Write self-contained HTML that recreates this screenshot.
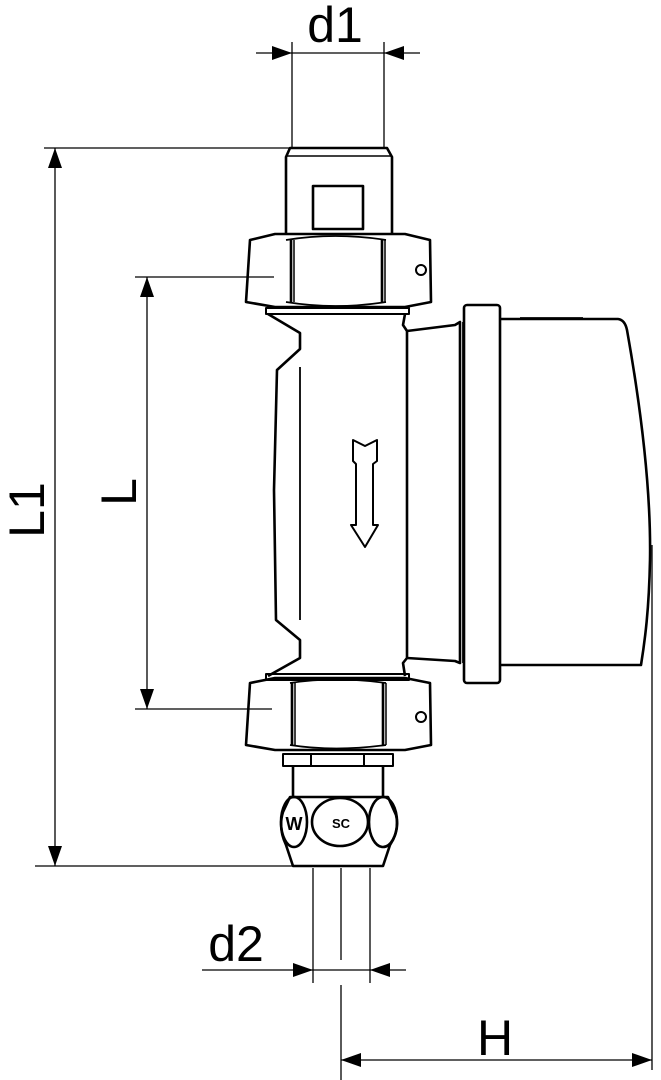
<!DOCTYPE html>
<html><head><meta charset="utf-8"><style>
html,body{margin:0;padding:0;background:#fff}
svg{display:block}
text{font-family:"Liberation Sans",sans-serif;fill:#000}
</style></head><body>
<svg width="661" height="1080" viewBox="0 0 661 1080" xmlns="http://www.w3.org/2000/svg">
<defs>
<marker id="a" viewBox="0 0 20 14" refX="20" refY="7" markerWidth="20" markerHeight="14" markerUnits="userSpaceOnUse" orient="auto"><path d="M0,0 L20,7 L0,14 Z" fill="#000"/></marker>
</defs>
<g stroke="#000" stroke-width="1.3" fill="none">
<line x1="292" y1="42" x2="292" y2="148"/><line x1="384" y1="42" x2="384" y2="148"/>
<line x1="256" y1="53" x2="292" y2="53" marker-end="url(#a)"/>
<line x1="420" y1="53" x2="384" y2="53" marker-end="url(#a)"/>
<line x1="292" y1="53" x2="384" y2="53"/>
<line x1="44" y1="148" x2="290" y2="148"/><line x1="35" y1="866" x2="295" y2="866"/>
<line x1="55" y1="500" x2="55" y2="148" marker-end="url(#a)"/>
<line x1="55" y1="500" x2="55" y2="866" marker-end="url(#a)"/>
<line x1="135" y1="277" x2="274" y2="277"/><line x1="135" y1="709" x2="272" y2="709"/>
<line x1="147" y1="490" x2="147" y2="277" marker-end="url(#a)"/>
<line x1="147" y1="490" x2="147" y2="709" marker-end="url(#a)"/>
<line x1="313" y1="868" x2="313" y2="983"/><line x1="370" y1="868" x2="370" y2="983"/>
<line x1="202" y1="970" x2="313" y2="970" marker-end="url(#a)"/>
<line x1="406" y1="970" x2="370" y2="970" marker-end="url(#a)"/>
<line x1="313" y1="970" x2="370" y2="970"/>
<line x1="341" y1="868" x2="341" y2="960"/><line x1="341" y1="985" x2="341" y2="1080"/>
<line x1="652" y1="545" x2="652" y2="1070"/>
<line x1="500" y1="1060" x2="341" y2="1060" marker-end="url(#a)"/>
<line x1="500" y1="1060" x2="652" y2="1060" marker-end="url(#a)"/>
</g>
<text x="335" y="42" font-size="50" text-anchor="middle">d1</text>
<text x="236" y="961" font-size="50" text-anchor="middle">d2</text>
<text x="495" y="1055" font-size="50" text-anchor="middle">H</text>
<text transform="translate(44,510) rotate(-90)" font-size="50" text-anchor="middle">L1</text>
<text transform="translate(136,492) rotate(-90)" font-size="50" text-anchor="middle">L</text>

<g stroke="#000" stroke-width="2.6" fill="none" stroke-linejoin="round">
<path d="M286,235 L286,157 L290,148 L387,148 L392,157 L392,235"/>
<line x1="286" y1="156" x2="392" y2="156" stroke-width="1.5"/>
<rect x="313" y="186" width="50" height="43"/>
<path d="M250,240 L275,234 L405,234 L430,240 L431,302 L405,307 L275,307 L246,302 Z"/>
<path d="M286,240 Q335,232 386,240 M286,302 Q335,310 386,302" stroke-width="1.8"/>
<line x1="291" y1="240" x2="291" y2="302"/><line x1="294" y1="240" x2="294" y2="302" stroke-width="1.5"/>
<line x1="382" y1="240" x2="382" y2="302"/><line x1="385" y1="240" x2="385" y2="302" stroke-width="1.5"/>
<circle cx="421" cy="270" r="5" stroke-width="2"/>
<rect x="266" y="308" width="143" height="6" stroke-width="2"/>
<path d="M268,314 L300,333 L300,349 L277,370 L274,490 L276,620 L300,640 L300,658 L268,676"/>
<line x1="300" y1="367" x2="300" y2="620" stroke-width="1.8"/>
<path d="M405,314 L403,325 L407,331 L407,658 L403,663 L405,676"/>
<path d="M407,331 L455,325 L460,322 L460,663 L455,661 L407,658"/>
<line x1="463" y1="322" x2="463" y2="663" stroke-width="1.8"/>
<rect x="464" y="305" width="36" height="378" rx="3"/>
<path d="M500,319 L618,319 Q625,320 627,330 C643,420 651,500 650,560 C649,610 645,640 641,665 L500,665"/>
<line x1="520" y1="318" x2="583" y2="318" stroke-width="1.8"/>
<path d="M353,440 L365,446 L377,440 L377,461 L373,464 L373,525 L378,525 L365,547 L351,525 L356,525 L356,464 L353,461 Z" stroke-width="2"/>
<rect x="266" y="674" width="143" height="6" stroke-width="2"/>
<path d="M250,683 L275,678 L405,678 L430,683 L431,745 L405,750 L275,750 L246,745 Z"/>
<path d="M290,683 Q335,676 386,683 M290,745 Q335,752 386,745" stroke-width="1.8"/>
<line x1="292" y1="683" x2="292" y2="745"/><line x1="295" y1="683" x2="295" y2="745" stroke-width="1.5"/>
<line x1="383" y1="683" x2="383" y2="745"/><line x1="386" y1="683" x2="386" y2="745" stroke-width="1.5"/>
<circle cx="421" cy="717" r="5" stroke-width="2"/>
<rect x="283" y="754" width="110" height="12" stroke-width="2"/>
<line x1="311" y1="754" x2="311" y2="766" stroke-width="2"/><line x1="364" y1="754" x2="364" y2="766" stroke-width="2"/>
<line x1="293" y1="766" x2="293" y2="797"/><line x1="383" y1="766" x2="383" y2="797"/>
<path d="M290,797 L388,797 L396,815 Q400,830 390,845 L383,866 L293,866 L286,845 Q278,828 283,812 Z"/>
<ellipse cx="294" cy="822" rx="13" ry="25"/>
<ellipse cx="340" cy="822" rx="28" ry="24"/>
<ellipse cx="383" cy="822" rx="14" ry="25"/>
</g>
<text x="294" y="830" font-size="18" font-weight="bold" text-anchor="middle">W</text>
<text x="341" y="828" font-size="13" font-weight="bold" text-anchor="middle">SC</text>
</svg>
</body></html>
